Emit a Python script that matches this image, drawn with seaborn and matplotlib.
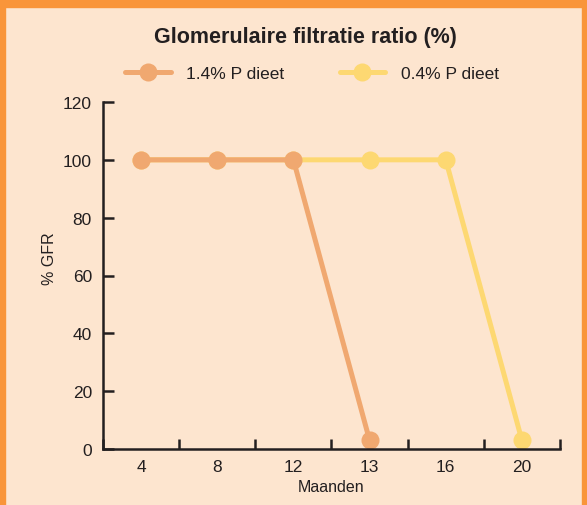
import seaborn as sns
import matplotlib.pyplot as plt
import pandas as pd
from matplotlib.lines import Line2D

maanden = ["4", "8", "12", "13", "16", "20"]
gfr_hoog_p = [100, 100, 100, 3]           # 1.4% P dieet
gfr_laag_p = [100, 100, 100, 100, 100, 3]  # 0.4% P dieet
labels = ["1.4% P dieet", "0.4% P dieet"]

bg = "#FDE5CF"
rand = "#F9953A"
oranje = "#F0A870"
geel = "#FDD872"

sns.set_style("ticks")
plt.rcParams["font.family"] = ["Liberation Sans Narrow", "Liberation Sans", "DejaVu Sans"]

fig = plt.figure(figsize=(5.87, 5.06), dpi=100, facecolor=bg)
ax = fig.add_axes([103 / 587, 1 - 450 / 506, (560 - 103) / 587, (450 - 103) / 506])
ax.set_facecolor(bg)

df_laag = pd.DataFrame({"maand": maanden, "gfr": gfr_laag_p})
df_hoog = pd.DataFrame({"maand": maanden[:len(gfr_hoog_p)], "gfr": gfr_hoog_p})

kw = dict(linewidth=3.6, marker="o", markersize=13, markeredgewidth=0, sort=False, clip_on=False)
sns.lineplot(data=df_laag, x="maand", y="gfr", color=geel, ax=ax, **kw)
sns.lineplot(data=df_hoog, x="maand", y="gfr", color=oranje, ax=ax, **kw)

ax.set_xlim(-0.5, len(maanden) - 0.5)
ax.set_ylim(0, 120)
ax.set_yticks(range(0, 121, 20))
ax.set_xticks(range(len(maanden)))
ax.set_xticklabels(maanden)
ax.set_xticks([i - 0.5 for i in range(len(maanden) + 1)], minor=True)
ax.tick_params(axis="x", which="major", length=0, pad=7, labelsize=12.5, colors="#231f20")
ax.tick_params(axis="x", which="minor", length=7, width=1.8, direction="in", color="#231f20")
ax.tick_params(axis="y", length=8, width=1.8, direction="in", pad=8, labelsize=12.5, colors="#231f20")
for s in ["top", "right"]:
    ax.spines[s].set_visible(False)
for s in ["left", "bottom"]:
    ax.spines[s].set_linewidth(1.8)
    ax.spines[s].set_color("#231f20")

ax.set_xlabel("Maanden", fontsize=11.5, color="#231f20", labelpad=4)
ax.set_ylabel("% GFR", fontsize=11.5, color="#231f20")
ax.yaxis.set_label_coords(-0.1, 0.55)

fig.text(305 / 587, 1 - 38 / 506, "Glomerulaire filtratie ratio (%)", ha="center", va="center",
         fontsize=15.5, fontweight="bold", color="#231f20")

handles = [Line2D([], [], color=c, linewidth=3.6, marker="o", markersize=13, markeredgewidth=0)
           for c in [oranje, geel]]
fig.legend(handles, labels, loc="center", bbox_to_anchor=(312 / 587, 1 - 74 / 506), ncol=2,
           frameon=False, fontsize=12.5, handlelength=2.6, columnspacing=3.2, handletextpad=0.9,
           labelcolor="#231f20")

# oranje rand
fig.patches.append(plt.Rectangle((0, 1 - 8 / 506), 1, 8 / 506, transform=fig.transFigure,
                                 color=rand, zorder=0))
fig.patches.append(plt.Rectangle((0, 0), 5 / 587, 1, transform=fig.transFigure, color=rand, zorder=0))
fig.patches.append(plt.Rectangle((1 - 5 / 587, 0), 5 / 587, 1, transform=fig.transFigure,
                                 color=rand, zorder=0))

fig.savefig("out.png", dpi=100, facecolor=bg)
